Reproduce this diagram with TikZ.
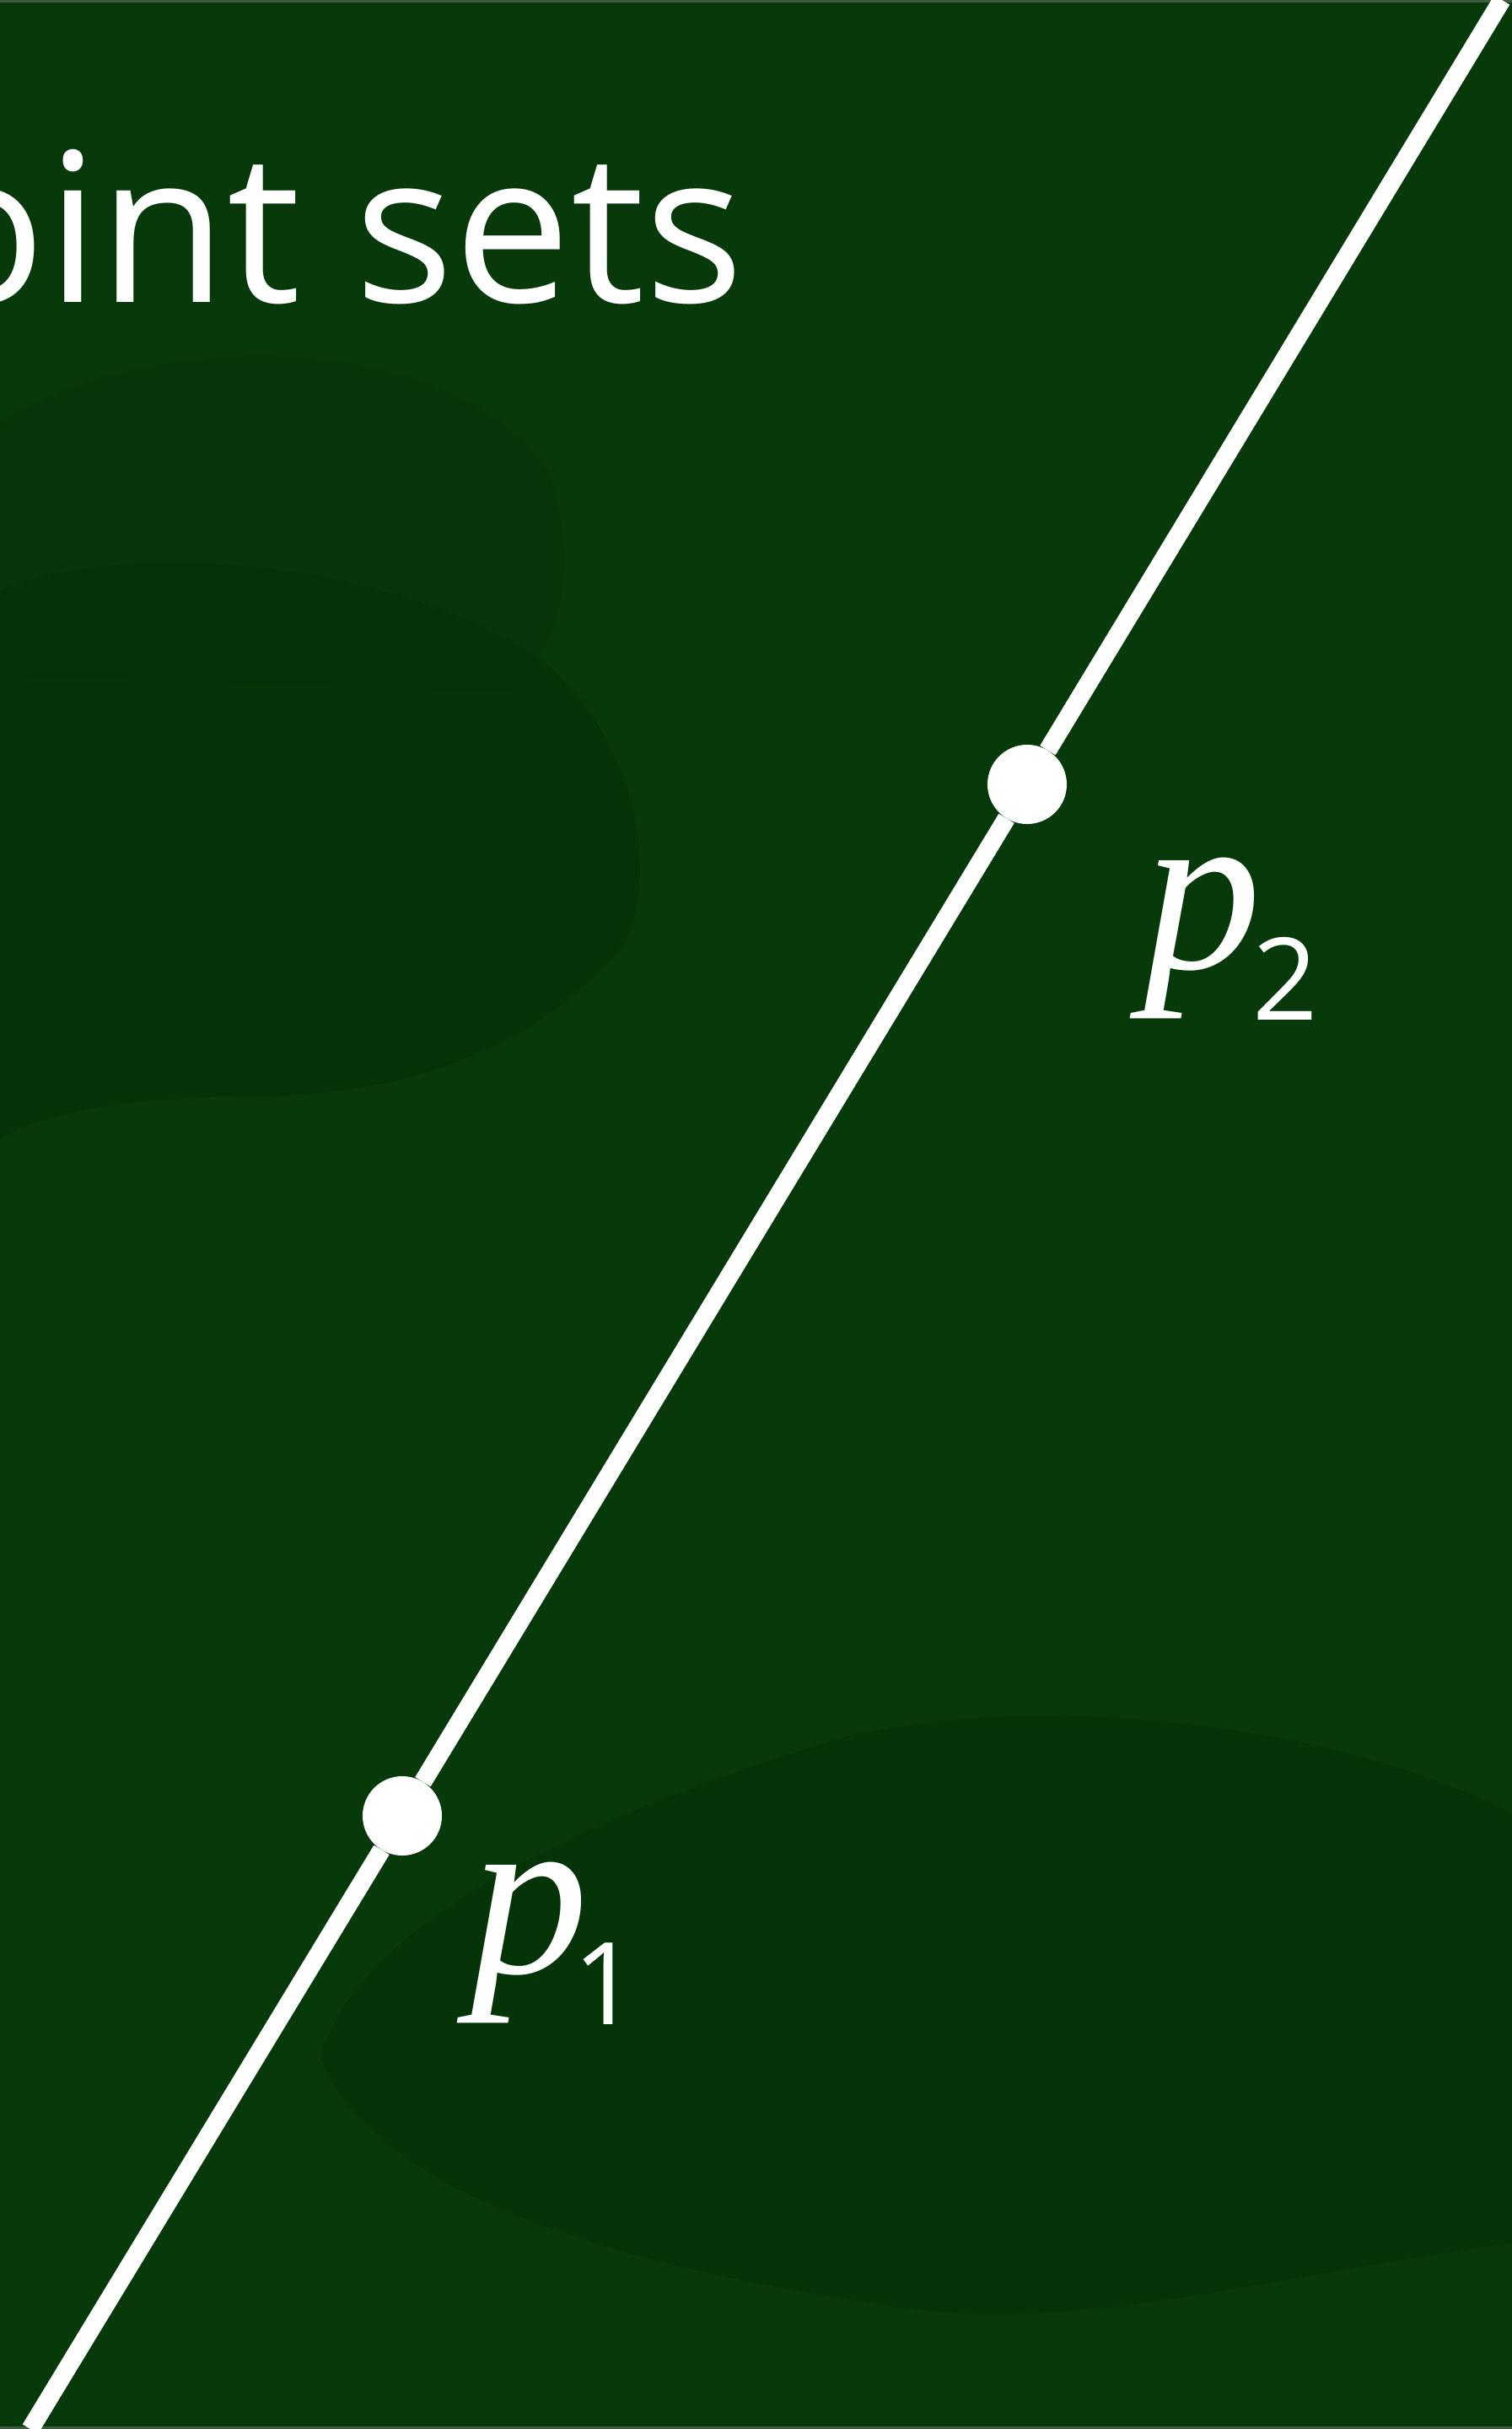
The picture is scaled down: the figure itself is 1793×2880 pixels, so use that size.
\documentclass[tikz,border=0pt]{standalone}
\usepackage{fontspec}
\setmainfont{Open Sans}
\newfontfamily\labfont{Liberation Serif}
\newfontfamily\subfont{Open Sans}
\definecolor{bgmain}{RGB}{7,57,10}
\definecolor{bgdark}{RGB}{5,46,8}
\definecolor{bgedge}{RGB}{60,92,60}
\tikzset{
  ptdot/.style={circle,fill=white,draw=none,minimum size=94bp,inner sep=0pt},
  ptline/.style={white,line width=21.5bp},
  ptlabel/.style={white,inner sep=0pt,anchor=base west},
  titletext/.style={white,inner sep=0pt,anchor=base west,font=\fontsize{248}{260}\selectfont}
}
\newcommand{\ptname}[2]{{\labfont\fontsize{280}{280}\selectfont\itshape p}\kern#2bp\raisebox{-61bp}{\subfont\fontsize{136}{136}\selectfont #1}}
\begin{document}
\begin{tikzpicture}[x=1bp,y=-1bp]
\useasboundingbox (0,0) rectangle (1793,2880);
\clip (0,0) rectangle (1793,2880);
% background
\fill[bgmain] (0,0) rectangle (1793,2880);
\fill[bgdark,opacity=0.45] (0,700) .. controls (150,640) and (450,660) .. (640,780)
  .. controls (760,880) and (780,1040) .. (740,1120)
  .. controls (650,1230) and (500,1300) .. (300,1300)
  .. controls (150,1300) and (50,1320) .. (0,1350) -- cycle;
\fill[bgdark,opacity=0.4] (380,2440) .. controls (420,2280) and (700,2150) .. (1000,2060)
  .. controls (1250,2000) and (1600,2050) .. (1793,2150)
  -- (1793,2660) .. controls (1500,2700) and (1300,2760) .. (1100,2740)
  .. controls (800,2700) and (450,2620) .. (380,2440) -- cycle;
\fill[bgdark,opacity=0.2] (0,500) .. controls (200,380) and (550,400) .. (650,560)
  .. controls (700,700) and (640,800) .. (600,820) -- (0,800) -- cycle;
\fill[bgedge] (0,0) rectangle (1793,3);
\fill[bgedge] (0,2877) rectangle (1793,2880);
% title
\node[titletext] (title) at (-243,358) {Point sets};
% line and points
\coordinate (lo) at (36,2880);
\coordinate (hi) at (1781,0);
\node[ptdot] (p1) at (477,2153) {};
\node[ptdot] (p2) at (1218,930) {};
\draw[ptline] (lo) -- (p1);
\draw[ptline] (p1) -- (p2);
\draw[ptline] (p2) -- (hi);
% labels
\node[ptlabel] (lab1) at (558,2339) {\ptname{1}{-18}};
\node[ptlabel] (lab2) at (1356,1148) {\ptname{2}{-10}};
\end{tikzpicture}
\end{document}
